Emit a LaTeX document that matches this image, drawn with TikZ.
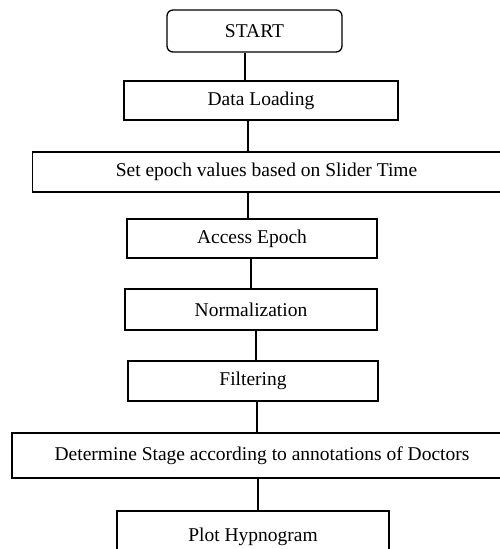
\documentclass[tikz,border=0pt]{standalone}
\usepackage{fontspec}
\setmainfont{Liberation Serif}
\begin{document}
\begin{tikzpicture}[x=1pt,y=-1pt,
  box/.style={draw=black, line width=1.3pt, inner sep=0pt, font=\fontsize{19.5}{22}\selectfont, anchor=center},
  conn/.style={draw=black, line width=1.3pt}]
\useasboundingbox (0,0) rectangle (500,549);
\clip (0,0) rectangle (500,549);
\node[box, rounded corners=6pt, minimum width=175pt, minimum height=42pt] (start) at (254.5,31) {START};
\node[box, minimum width=274pt, minimum height=39pt] (load) at (261,100.5) {Data Loading};
\node[box, minimum width=468pt, minimum height=40pt] (epoch) at (266.5,172) {Set epoch values based on Slider Time};
\node[box, minimum width=250pt, minimum height=39pt] (access) at (252,238.5) {Access Epoch};
\node[box, minimum width=252pt, minimum height=41pt] (norm) at (251,309.5) {Normalization};
\node[box, minimum width=250pt, minimum height=40pt] (filt) at (253,381) {Filtering};
\node[box, minimum width=500pt, minimum height=45pt] (stage) at (262,455.5) {Determine Stage according to annotations of Doctors};
\node[box, minimum width=272pt, minimum height=52pt] (plot) at (253,537) {Plot Hypnogram};
\draw[conn] ([xshift=-9.5pt]start.south) -- ([xshift=-9.5pt]start.south |- load.north);
\draw[conn] ([xshift=-13pt]load.south) -- ([xshift=-13pt]load.south |- epoch.north);
\draw[conn] ([xshift=-18.5pt]epoch.south) -- ([xshift=-18.5pt]epoch.south |- access.north);
\draw[conn] ([xshift=-1pt]access.south) -- ([xshift=-1pt]access.south |- norm.north);
\draw[conn] ([xshift=5pt]norm.south) -- ([xshift=5pt]norm.south |- filt.north);
\draw[conn] ([xshift=4pt]filt.south) -- ([xshift=4pt]filt.south |- stage.north);
\draw[conn] ([xshift=-4pt]stage.south) -- ([xshift=-4pt]stage.south |- plot.north);
\end{tikzpicture}
\end{document}
